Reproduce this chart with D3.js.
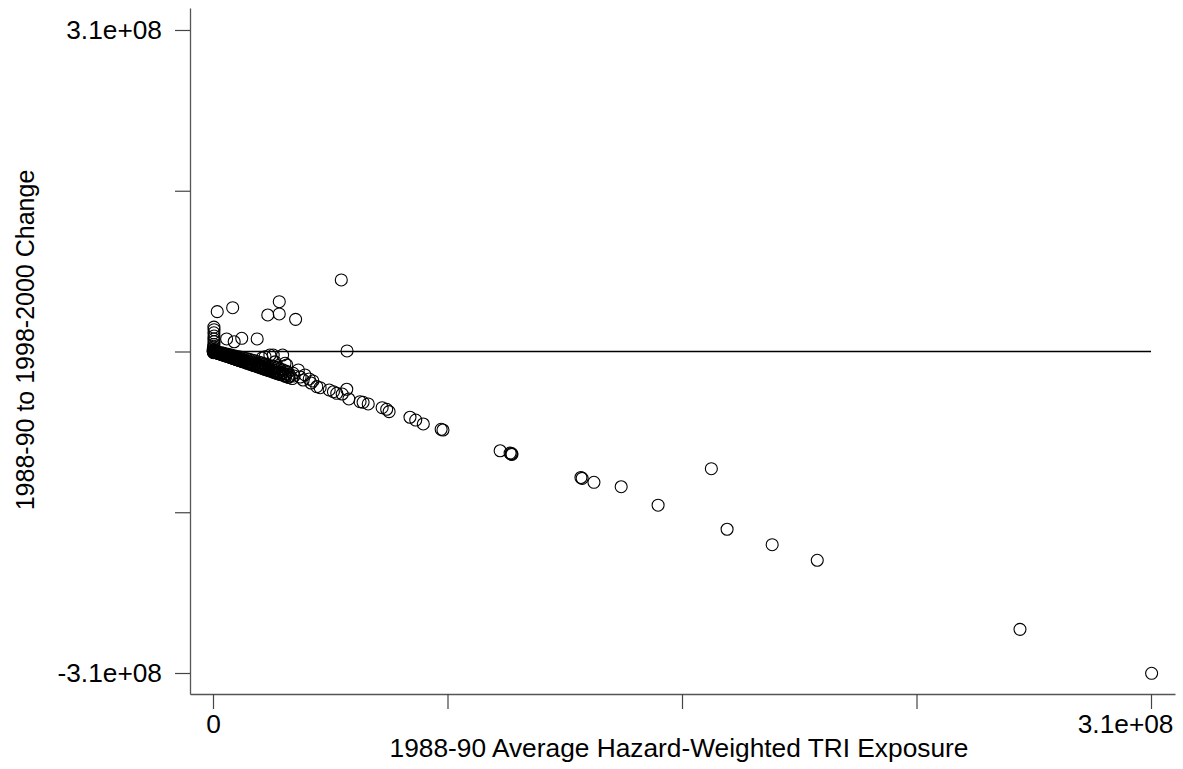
<!DOCTYPE html>
<html>
<head>
<meta charset="utf-8">
<script src="https://cdn.jsdelivr.net/npm/d3@7"></script>
<style>
  html, body { margin: 0; padding: 0; background: #fff; }
  svg { display: block; }
  text { font-family: "Liberation Sans", Arial, sans-serif; fill: #000; }
</style>
</head>
<body>
<svg id="chart" width="1183" height="769"></svg>
<script>
// Facility exposure: 1988-90 average (x) and change to 1998-2000 (y), in millions
const baseExposure = [
  0.05, 0.1, 0.1, 0.2, 0.15, 0.25, 0.3, 0.35, 0.3, 0.35, 0.3, 0.35, 0.3, 0.4, 0.6, 0.7, 0.9, 1.1, 1.2, 1.4,
  1.6, 1.8, 2.0, 2.2, 2.4, 2.6, 2.8, 3.0, 3.3, 3.5, 3.8, 4.0, 4.3, 4.6, 4.9, 5.2, 5.5, 5.8, 6.1, 6.4,
  6.7, 7.0, 7.3, 7.6, 7.9, 8.2, 8.5, 8.8, 9.1, 9.4, 9.7, 10.0, 10.4, 10.8, 11.2, 11.6, 12.0, 12.4, 12.8, 13.2,
  13.6, 14.0, 14.4, 14.8, 15.2, 15.6, 16.0, 16.5, 17.0, 17.5, 18.0, 18.5, 19.0, 19.5, 20.0, 20.6, 21.2, 21.8, 22.4, 23.0,
  23.6, 24.2, 24.8, 25.5, 26.2,
  0.5, 1.5, 2.5, 3.5, 4.5, 5.5, 6.5, 7.5, 8.5, 9.5, 10.5, 11.5, 12.5, 13.5, 14.5, 15.5, 16.5, 17.5, 18.5, 19.5,
  20.5, 21.5, 22.5, 23.5,
  1.0, 2.0, 3.0, 4.0, 5.0, 6.0, 7.0, 8.0, 9.0, 10.0, 11.0, 12.0, 13.0, 14.0, 15.0, 16.0, 17.0, 18.0, 19.0, 20.0,
  21.0, 22.0, 23.0, 24.0,
  0.7, 1.3, 1.9, 2.7, 3.2, 4.1, 5.0, 5.9, 6.9, 7.8, 8.7, 9.9, 11.0, 12.2, 13.3, 14.6, 15.8, 17.2, 18.3, 19.7,
  21.0, 22.0, 24.0, 25.0,
  0.1, 0.2, 0.3, 0.5, 0.2, 0.6,
  4.5, 7.0, 9.5, 14.6, 17.2, 18.8, 23.0, 23.8, 28.2, 30.4,
  19.9, 24.4, 26.5, 29.8, 31.8, 34.3, 35.4, 38.4, 39.8, 40.9, 42.7, 44.2, 44.9, 48.6, 49.6, 51.3, 55.9, 57.4, 58.2, 65.1,
  67.0, 69.5, 75.4, 76.0, 44.3,
  21.5, 20.5, 16.2, 24.8, 26.8, 28.8, 32.4, 33.0,
  42.4, 21.9, 21.9, 18.1, 27.3, 6.5, 1.4,
  94.9, 98.2, 98.5, 98.8, 98.7, 121.6, 122.0, 125.9, 134.9, 147.1, 164.7, 169.9, 184.8, 199.7, 266.7, 310.2
];
const exposureChange = [
  1.2, 0.5, -0.2, 2.0, 3.5, 5.0, 6.8, 9.5, 12.0, 15.0, 18.0, 21.0, 23.5, -0.4, 0.8, -0.6, -0.8, -1.1, 0.2, -1.3,
  -1.5, -0.9, -2.0, -1.6, -2.3, -1.2, -2.8, -2.2, -3.2, -1.8, -3.7, -2.9, -4.2, -3.1, -4.8, -3.8, -5.4, -4.2, -6.0, -4.9,
  -6.6, -5.3, -7.2, -5.7, -7.8, -6.6, -8.4, -7.0, -9.0, -7.3, -9.6, -8.1, -10.3, -8.7, -11.1, -9.4, -11.9, -10.2, -12.7, -10.9,
  -13.5, -11.6, -14.3, -12.4, -15.1, -13.3, -15.9, -14.1, -16.9, -15.2, -17.9, -16.0, -18.9, -17.1, -19.9, -18.2, -21.1, -19.5, -22.3, -20.4,
  -23.5, -21.8, -24.7, -23.4, -26.1,
  -0.5, -1.45, -2.4, -3.4, -4.4, -5.2, -6.3, -7.3, -8.0, -9.3, -9.9, -11.3, -11.8, -13.0, -13.8, -15.0, -16.2, -17.0, -18.2, -18.8,
  -20.3, -20.8, -21.6, -22.9,
  -0.5, -1.2, -1.6, -2.2, -2.8, -3.5, -4.1, -4.8, -5.4, -6.2, -6.9, -7.6, -8.4, -9.2, -10.1, -11.0, -11.9, -12.8, -13.7, -14.8,
  -15.6, -16.8, -17.7, -18.9,
  -0.7, -1.3, -1.9, -2.7, -3.2, -4.1, -5.0, -5.9, -6.9, -7.8, -8.7, -9.9, -11.0, -12.2, -13.3, -14.6, -15.8, -17.2, -18.3, -19.7,
  -21.0, -22.0, -24.0, -25.0,
  -0.6, 0.8, -1.0, 0.3, -1.2, -0.2,
  12.1, 9.4, 12.7, 12.1, -5.0, -3.4, -3.4, -11.4, -17.8, -22.6,
  -3.4, -13.0, -21.0, -27.5, -26.5, -33.9, -34.9, -37.1, -38.8, -40.3, -41.0, -36.4, -45.8, -48.4, -49.0, -50.6, -54.2, -55.7, -58.0, -63.4,
  -66.1, -69.9, -75.0, -75.7, 0.5,
  -15.0, -10.0, -6.3, -19.8, -23.6, -24.6, -30.4, -28.4,
  69.0, 48.0, 36.2, 35.2, 31.0, 42.2, 38.4,
  -95.7, -97.9, -98.8, -99.3, -98.4, -121.5, -122.3, -126.1, -130.4, -148.2, -113.0, -171.4, -186.3, -201.3, -267.9, -310.3
];
const xTickValues = [0, 77.5e6, 155e6, 232.5e6, 310e6];
const xTickLabels = ["0", "", "", "", "3.1e+08"];
const yTickValues = [-310e6, -155e6, 0, 155e6, 310e6];
const yTickLabels = ["-3.1e+08", "", "", "", "3.1e+08"];
const xTitle = "1988-90 Average Hazard-Weighted TRI Exposure";
const yTitle = "1988-90 to 1998-2000 Change";

const points = baseExposure.map((v, i) => ({ x: v * 1e6, y: exposureChange[i] * 1e6 }));

const svg = d3.select("#chart");
const x = d3.scaleLinear().domain([-7.601e6, 317.93e6]).range([190, 1175]);
const y = d3.scaleLinear().domain([-330.25e6, 331.2e6]).range([694, 8]);

const FONT = 26.3;

// Axes
const xAxis = svg.append("g")
  .attr("transform", "translate(0,694)")
  .call(d3.axisBottom(x).tickValues(xTickValues)
    .tickFormat((d, i) => xTickLabels[i]).tickSize(15).tickPadding(5).tickSizeOuter(0));
const yAxis = svg.append("g")
  .attr("transform", "translate(190,0)")
  .call(d3.axisLeft(y).tickValues(yTickValues)
    .tickFormat((d, i) => yTickLabels[i]).tickSize(15).tickPadding(13).tickSizeOuter(0));

[xAxis, yAxis].forEach(g => {
  g.select(".domain").attr("stroke", "#555").attr("stroke-width", 1.3);
  g.selectAll(".tick line").attr("stroke", "#444").attr("stroke-width", 1.2);
  g.selectAll(".tick text").attr("font-size", FONT).attr("fill", "#000")
    .attr("font-family", "Liberation Sans, Arial, sans-serif");
});
// keep the last x label inside the frame
xAxis.selectAll(".tick text").filter((d, i) => i === xTickValues.length - 1)
  .attr("text-anchor", "end").attr("x", 22);

// Zero reference line
svg.append("line")
  .attr("x1", x(0)).attr("x2", x(310e6))
  .attr("y1", y(0)).attr("y2", y(0))
  .attr("stroke", "#000").attr("stroke-width", 1.3);

// Scatter points
svg.append("g").selectAll("circle")
  .data(points)
  .join("circle")
  .attr("cx", d => x(d.x))
  .attr("cy", d => y(d.y))
  .attr("r", 6)
  .attr("fill", "none")
  .attr("stroke", "#000")
  .attr("stroke-width", 1.1);

// Axis titles
svg.append("text")
  .attr("x", 679).attr("y", 757)
  .attr("text-anchor", "middle")
  .attr("font-size", FONT)
  .text(xTitle);
svg.append("text")
  .attr("transform", "translate(34,340) rotate(-90)")
  .attr("text-anchor", "middle")
  .attr("font-size", 25)
  .text(yTitle);
</script>
</body>
</html>
